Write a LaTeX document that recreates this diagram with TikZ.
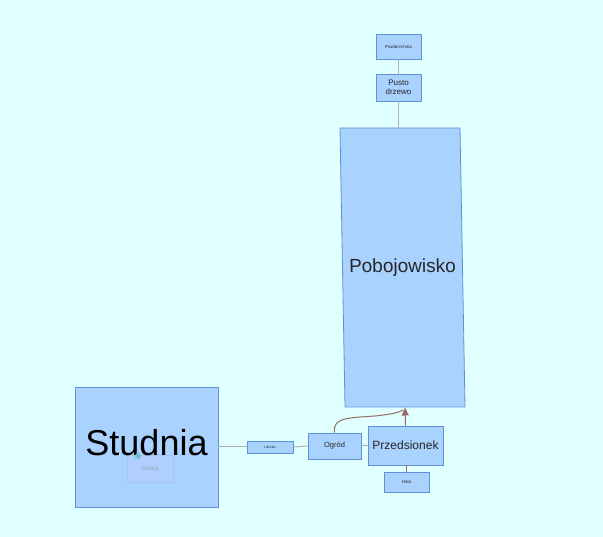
\documentclass[tikz,border=0pt]{standalone}
\usepackage{fontspec}
\setmainfont{Liberation Sans}
\usetikzlibrary{arrows.meta}
\definecolor{bg}{RGB}{224,255,255}
\definecolor{boxfill}{RGB}{170,210,255}
\definecolor{boxline}{RGB}{95,145,215}
\definecolor{greyline}{RGB}{175,175,175}
\definecolor{brownline}{RGB}{150,110,100}
\definecolor{dotcol}{RGB}{110,195,200}
\tikzset{
  x=1pt, y=-1pt,
  box/.style={draw=boxline, fill=boxfill, line width=0.8pt, inner sep=0pt, align=center, text=black!85},
  gline/.style={draw=greyline, line width=1pt},
  bline/.style={draw=brownline, line width=1pt},
}
\begin{document}
\begin{tikzpicture}
\fill[bg] (0,0) rectangle (603,537);
\useasboundingbox (0,0) rectangle (603,537);

\node[box, minimum width=45pt, minimum height=25pt, font=\fontsize{4.5}{5}\selectfont] (pow) at (398.5,46.5) {Powierzchnia};
\node[box, minimum width=45pt, minimum height=27pt, font=\fontsize{8}{8.5}\selectfont] (pusto) at (398.5,87.5) {Pusto\\drzewo};
\node[box, minimum width=120pt, minimum height=279pt, xslant=-0.018, transform shape, font=\fontsize{19}{21}\selectfont] (pob) at (402.5,267.5) {Pobojowisko};
\node[box, minimum width=143pt, minimum height=120pt] (stud) at (146.5,447) {};
\node[box, draw=boxline!60, fill=boxfill!80!blue!60, fill opacity=0.45, draw opacity=0.5, minimum width=46pt, minimum height=27pt, text=black!45, text opacity=0.6, font=\fontsize{6}{7}\selectfont] (dziura) at (150,468.5) {Dziura};
\node[font=\fontsize{36}{40}\selectfont, text=black, anchor=base] (studtext) at (146.5,456) {Studnia};
\fill[dotcol] (138,456) circle (3pt);
\node[box, minimum width=46pt, minimum height=12pt, font=\fontsize{3.5}{4}\selectfont] (ul) at (270,447) {Uliczka};
\node[box, minimum width=53pt, minimum height=26pt, font=\fontsize{7.5}{8}\selectfont] (ogrod) at (334.5,446) {Ogród};
\node[box, minimum width=75pt, minimum height=39pt, font=\fontsize{12}{13}\selectfont] (przed) at (405.5,445.5) {Przedsionek};
\node[box, minimum width=45pt, minimum height=20pt, font=\fontsize{4.5}{5}\selectfont] (hala) at (406.5,482) {Hala};

% connectors
\draw[gline] (pow.south) -- (pusto.north);
\draw[gline] (pusto.south) -- (pusto.south |- pob.north);
\draw[gline] (stud.east |- ul.west) -- (ul.west);
\draw[gline] (ul.east) -- (ogrod.west);
\draw[gline] (ogrod.east) -- (przed.west |- ogrod.east);
\draw[bline] (przed.south -| hala.north) -- (hala.north);
\coordinate (tip) at (405,407.5);
\draw[bline, -{Triangle[length=8pt,width=7pt]}] (przed.north) -- (tip);
\draw[bline] (ogrod.north) .. controls (333,418) and (345,418) .. (375,416) .. controls (392,414) and (398,413) .. (403,410);
\end{tikzpicture}
\end{document}
